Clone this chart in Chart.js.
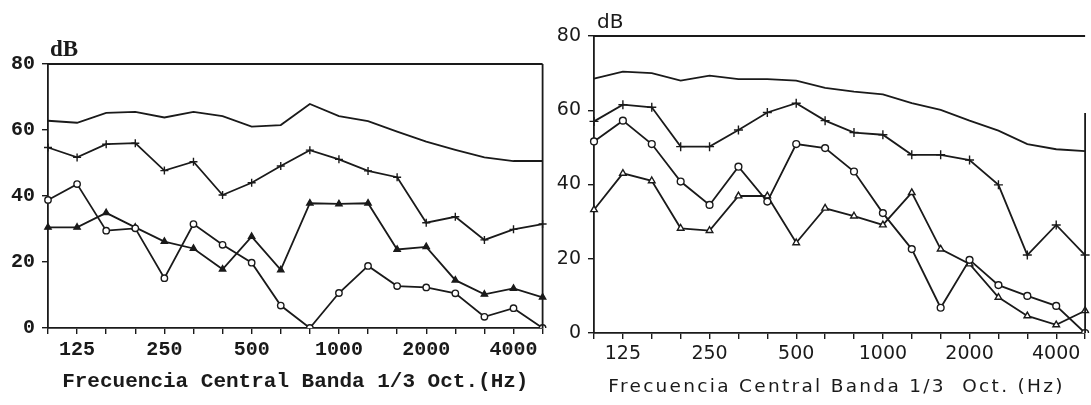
<!DOCTYPE html>
<html>
<head>
<meta charset="utf-8">
<script src="https://cdn.jsdelivr.net/npm/chart.js@4/dist/chart.umd.min.js"></script>
<style>
  body { margin: 0; background: #fff; }
  #wrap { position: relative; width: 1091px; height: 405px; overflow: hidden; }
  #c1 { position: absolute; left: 0; top: 0; }
  #c2 { position: absolute; left: 548px; top: 0; }
</style>
</head>
<body>
<div id="wrap">
  <canvas id="c1" width="548" height="405"></canvas>
  <canvas id="c2" width="543" height="405"></canvas>
</div>
<script>
// 1/3 octave bands (Hz)
const bands = ["100", "125", "160", "200", "250", "315", "400", "500", "630",
  "800", "1000", "1250", "1600", "2000", "2500", "3150", "4000", "5000"];
const shownTicks = ["125", "250", "500", "1000", "2000", "4000"];

// left panel
const leftTop = [62.8, 62.2, 65.2, 65.5, 63.8, 65.5, 64.2, 61.0, 61.5, 67.9, 64.2, 62.7, 59.5, 56.5, 54.0, 51.7, 50.6, 50.6];
const leftCross = [54.7, 51.7, 55.7, 56.0, 47.7, 50.4, 40.3, 44.0, 49.1, 53.9, 51.1, 47.6, 45.7, 31.9, 33.7, 26.7, 29.9, 31.5];
const leftCircle = [38.8, 43.6, 29.5, 30.2, 15.1, 31.5, 25.2, 19.8, 6.8, 0.0, 10.6, 18.8, 12.7, 12.3, 10.5, 3.4, 6.0, 0.0];
const leftTriangle = [30.5, 30.5, 34.9, 30.5, 26.2, 24.1, 17.8, 27.7, 17.6, 37.8, 37.6, 37.8, 23.8, 24.6, 14.5, 10.2, 12.0, 9.3];

// right panel
const rightTop = [68.5, 70.4, 70.0, 68.0, 69.3, 68.4, 68.4, 68.0, 66.0, 65.0, 64.3, 61.9, 60.1, 57.2, 54.5, 50.9, 49.5, 49.0];
const rightCross = [57.0, 61.5, 60.8, 50.2, 50.2, 54.7, 59.4, 61.9, 57.2, 54.0, 53.4, 48.0, 48.0, 46.6, 39.9, 21.0, 29.1, 21.0];
const rightCircle = [51.6, 57.2, 50.9, 40.8, 34.5, 44.8, 35.4, 50.9, 49.8, 43.5, 32.3, 22.6, 6.8, 19.7, 12.9, 10.0, 7.3, 0.0];
const rightTriangle = [33.2, 43.0, 41.0, 28.2, 27.6, 36.9, 36.9, 24.3, 33.6, 31.5, 29.1, 37.8, 22.6, 18.6, 9.6, 4.6, 2.2, 6.0];

const ink = "#1a1a1a";

function lineSet(data, style, radius, fill) {
  return {
    data: data,
    borderColor: ink,
    borderWidth: 1.8,
    pointStyle: style,
    pointRadius: radius,
    pointBorderColor: ink,
    pointBorderWidth: 1.4,
    pointBackgroundColor: fill,
    tension: 0
  };
}

// frame line at the top and on the right, "dB" label, optional drawn x title
const framePlugin = {
  id: "frame",
  afterDraw(chart, args, opts) {
    const a = chart.chartArea;
    const ctx = chart.ctx;
    ctx.save();
    ctx.strokeStyle = ink;
    ctx.lineWidth = 1.8;
    ctx.beginPath();
    ctx.moveTo(a.left, a.top);
    ctx.lineTo(a.right, a.top);
    ctx.moveTo(a.right, a.top + opts.rightFrom);
    ctx.lineTo(a.right, a.bottom);
    ctx.stroke();
    ctx.fillStyle = ink;
    ctx.font = opts.font;
    ctx.textBaseline = "alphabetic";
    ctx.fillText("dB", a.left + opts.dx, a.top + opts.dy);
    if (opts.title) {
      ctx.font = opts.titleFont;
      ctx.letterSpacing = opts.spacing;
      ctx.textAlign = "center";
      ctx.textBaseline = "middle";
      ctx.fillText(opts.title, (a.left + a.right) / 2 + opts.titleDx, opts.titleY);
    }
    ctx.restore();
  }
};

function makeChart(id, sets, cfg) {
  const ctx = document.getElementById(id).getContext("2d");
  return new Chart(ctx, {
    type: "line",
    data: { labels: bands, datasets: sets },
    options: {
      responsive: false,
      animation: false,
      events: [],
      layout: { padding: { top: cfg.top, right: cfg.right, left: 0, bottom: 0 } },
      plugins: {
        legend: { display: false },
        tooltip: { enabled: false },
        frame: {
          rightFrom: cfg.rightFrom, font: cfg.dbFont, dx: cfg.dbDx, dy: cfg.dbDy,
          title: cfg.drawnTitle, titleFont: cfg.drawnTitleFont, spacing: cfg.spacing,
          titleY: cfg.titleY, titleDx: cfg.titleDx
        }
      },
      scales: {
        x: {
          offset: false,
          afterFit: (s) => { s.height = cfg.xHeight; },
          border: { display: true, color: ink, width: 1.8 },
          grid: { drawOnChartArea: false, drawTicks: true, tickLength: 6, color: ink, lineWidth: 1.4 },
          ticks: {
            autoSkip: false,
            maxRotation: 0,
            padding: 4,
            color: ink,
            font: cfg.tickFont,
            callback: function (v) {
              const lab = this.getLabelForValue(v);
              return shownTicks.includes(lab) ? lab : "";
            }
          },
          title: {
            display: !!cfg.xTitle,
            text: cfg.xTitle,
            color: ink,
            font: cfg.titleFont,
            padding: { top: 0, bottom: cfg.titlePad }
          }
        },
        y: {
          min: 0,
          max: 80,
          afterFit: (s) => { s.width = cfg.yWidth; },
          border: { display: true, color: ink, width: 1.8 },
          grid: { drawOnChartArea: false, drawTicks: true, tickLength: 6, color: ink, lineWidth: 1.4 },
          ticks: { stepSize: 20, padding: 7, color: ink, font: cfg.tickFont }
        }
      }
    },
    plugins: [framePlugin]
  });
}

window.onload = () => {
  const mono = "'Liberation Mono', 'DejaVu Sans Mono', monospace";
  const sans = "'DejaVu Sans', sans-serif";

  makeChart("c1", [
    lineSet(leftTop, "circle", 0, ink),
    lineSet(leftCross, "cross", 4, ink),
    lineSet(leftCircle, "circle", 3.2, "#fff"),
    lineSet(leftTriangle, "triangle", 3.6, ink)
  ], {
    top: 64, right: 2, yWidth: 48, xHeight: 77, rightFrom: 0,
    xTitle: "Frecuencia Central Banda 1/3 Oct.(Hz)",
    tickFont: { family: mono, size: 20, weight: "bold" },
    titleFont: { family: mono, size: 21, weight: "bold" },
    titlePad: 11,
    dbFont: "bold 23px 'Liberation Serif', serif", dbDx: 2, dbDy: -8
  });

  makeChart("c2", [
    lineSet(rightTop, "circle", 0, ink),
    lineSet(rightCross, "cross", 4.5, ink),
    lineSet(rightCircle, "circle", 3.4, "#fff"),
    lineSet(rightTriangle, "triangle", 3.8, "#fff")
  ], {
    top: 36, right: 4, yWidth: 46, xHeight: 72, rightFrom: 77,
    xTitle: "",
    drawnTitle: "Frecuencia Central Banda 1/3  Oct. (Hz)",
    drawnTitleFont: "18.5px 'DejaVu Sans', sans-serif",
    spacing: "2.3px", titleY: 387, titleDx: -3,
    tickFont: { family: sans, size: 19 },
    titleFont: { family: sans, size: 18 },
    titlePad: 7,
    dbFont: "20px 'DejaVu Sans', sans-serif", dbDx: 3, dbDy: -8
  });
};
</script>
</body>
</html>
